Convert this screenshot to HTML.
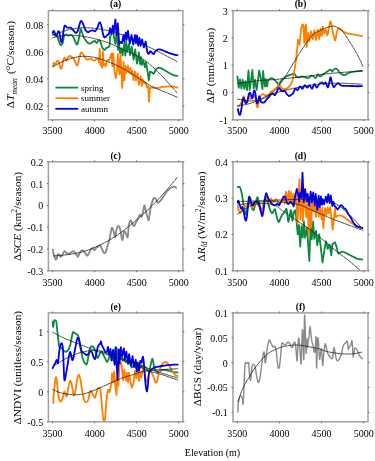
<!DOCTYPE html><html><head><meta charset="utf-8"><style>html,body{margin:0;padding:0;background:#fff;width:375px;height:461px;overflow:hidden}svg{display:block;filter:blur(0.35px)}text{font-family:"Liberation Serif",serif;fill:#000}</style></head><body>
<svg width="375" height="461" viewBox="0 0 375 461">
<rect width="375" height="461" fill="#fff"/>
<defs>
<clipPath id="ca"><rect x="48.4" y="10.7" width="134.5" height="109.1"/></clipPath>
<clipPath id="cb"><rect x="233" y="10.7" width="135" height="109.1"/></clipPath>
<clipPath id="cc"><rect x="48.4" y="161.8" width="134.5" height="109"/></clipPath>
<clipPath id="cd"><rect x="233" y="161.8" width="135" height="109"/></clipPath>
<clipPath id="ce"><rect x="48.4" y="312.9" width="134.5" height="108.9"/></clipPath>
<clipPath id="cf"><rect x="233" y="312.9" width="135" height="108.9"/></clipPath>
</defs>
<g clip-path="url(#ca)">
<path d="M52.7 33.7 C53.13 34.03 54.53 35.27 55.3 35.7 C56.07 36.13 56.73 35.42 57.3 36.3 C57.87 37.18 58.13 39.55 58.7 41 C59.27 42.45 60.03 44.67 60.7 45 C61.37 45.33 62.15 44.45 62.7 43 C63.25 41.55 63.57 37.75 64 36.3 C64.43 34.85 64.52 34.4 65.3 34.3 C66.08 34.2 67.7 35.58 68.7 35.7 C69.7 35.82 70.53 34.78 71.3 35 C72.07 35.22 72.63 35.88 73.3 37 C73.97 38.12 74.63 40.48 75.3 41.7 C75.97 42.92 76.63 45.2 77.3 44.3 C77.97 43.4 78.73 38.85 79.3 36.3 C79.87 33.75 80.25 29.67 80.7 29 C81.15 28.33 81.45 30.85 82 32.3 C82.55 33.75 83.22 36.13 84 37.7 C84.78 39.27 85.82 40.7 86.7 41.7 C87.58 42.7 88.42 43.6 89.3 43.7 C90.18 43.8 91.1 42.75 92 42.3 C92.9 41.85 93.92 40.88 94.7 41 C95.48 41.12 96.03 43.12 96.7 43 C97.37 42.88 98.1 40.58 98.7 40.3 C99.3 40.02 99.8 40.35 100.3 41.3 C100.8 42.25 101.25 44.77 101.7 46 C102.15 47.23 102.57 48.03 103 48.7 C103.43 49.37 103.75 50.12 104.3 50 C104.85 49.88 105.63 48.45 106.3 48 C106.97 47.55 107.73 47.75 108.3 47.3 C108.87 46.85 109.47 45.63 109.7 45.3 L110 36.75 L112 33.3 L113.44 33.72 L115.25 43.94 L116.7 32.7 L118.07 49.9 L119 42.89 L120.08 53.38 L121.51 48.28 L122.55 55.47 L124.35 43.24 L125.33 55.55 L126.29 41.88 L127.24 51.72 L128.99 44.14 L130.03 55.02 L131.79 46.69 L133.63 59.72 L135.18 49.46 L137 63.73 L138.86 52.37 L139.99 64.22 L140.98 57.2 L141.86 64.99 L143.32 60.36 L144.86 67.27 L146.01 62.26 L147.34 69.96 L148.8 80.5 C148.95 79.42 149.5 75.47 149.7 74 C149.9 72.53 149.65 71.98 150 71.7 C150.35 71.42 151.25 71.95 151.8 72.3 C152.35 72.65 152.8 73.9 153.3 73.8 C153.8 73.7 154.25 72.55 154.8 71.7 C155.35 70.85 156 69.35 156.6 68.7 C157.2 68.05 157.7 67.9 158.4 67.8 C159.1 67.7 160.02 67.85 160.8 68.1 C161.58 68.35 162.32 68.85 163.1 69.3 C163.88 69.75 164.7 70.3 165.5 70.8 C166.3 71.3 167.1 71.85 167.9 72.3 C168.7 72.75 169.5 73.07 170.3 73.5 C171.1 73.93 171.9 74.55 172.7 74.9 C173.5 75.25 174.3 75.45 175.1 75.6 C175.9 75.75 177.1 75.77 177.5 75.8" fill="none" stroke="#0a8a3c" stroke-width="1.8" stroke-linejoin="round" stroke-linecap="round"/>
<path d="M53.1 66.7 C53.18 66.03 53.33 63.03 53.6 62.7 C53.87 62.37 54.3 64.6 54.7 64.7 C55.1 64.8 55.57 63.97 56 63.3 C56.43 62.63 56.85 60.92 57.3 60.7 C57.75 60.48 58.25 61 58.7 62 C59.15 63 59.57 65.58 60 66.7 C60.43 67.82 60.85 69.27 61.3 68.7 C61.75 68.13 62.25 65.08 62.7 63.3 C63.15 61.52 63.57 58.77 64 58 C64.43 57.23 64.85 58.25 65.3 58.7 C65.75 59.15 66.25 60.93 66.7 60.7 C67.15 60.47 67.45 58.08 68 57.3 C68.55 56.52 69.33 56 70 56 C70.67 56 71.33 56.75 72 57.3 C72.67 57.85 73.33 58.18 74 59.3 C74.67 60.42 75.4 63 76 64 C76.6 65 77.05 66.3 77.6 65.3 C78.15 64.3 78.73 60.1 79.3 58 C79.87 55.9 80.38 53.37 81 52.7 C81.62 52.03 82.38 53.33 83 54 C83.62 54.67 84.08 55.82 84.7 56.7 C85.32 57.58 86.03 58.87 86.7 59.3 C87.37 59.73 88.03 59.4 88.7 59.3 C89.37 59.2 90.03 58.58 90.7 58.7 C91.37 58.82 92.03 59.67 92.7 60 C93.37 60.33 94.15 60.82 94.7 60.7 C95.25 60.58 95.45 59.63 96 59.3 C96.55 58.97 97.5 58.32 98 58.7 C98.5 59.08 98.7 63.23 99 61.6 C99.3 59.97 99.57 48.42 99.8 48.9 C100.03 49.38 100.13 62.22 100.4 64.5 C100.67 66.78 101.12 62.1 101.4 62.6 C101.68 63.1 101.85 69.3 102.1 67.5 C102.35 65.7 102.63 52.3 102.9 51.8 C103.17 51.3 103.47 62.22 103.7 64.5 C103.93 66.78 104.03 65.65 104.3 65.5 C104.57 65.35 105.02 63.52 105.3 63.6 C105.58 63.68 105.75 66.33 106 66 C106.25 65.67 106.5 62.58 106.8 61.6 C107.1 60.62 107.48 60.27 107.8 60.1 C108.12 59.93 108.38 60.83 108.7 60.6 C109.02 60.37 109.37 59.52 109.7 58.7 C110.03 57.88 110.53 56.2 110.7 55.7 L111.5 53.41 L112.44 66.38 L113.29 53.34 L114.45 71.16 L115.8 78.2 L116.99 71.43 L117.87 54.04 L119.51 74.48 L120.52 55.03 L122.2 88 L123.48 61.58 L124.3 80.45 L125.39 65.81 L126.29 72.87 L127.92 65.75 L129.3 72.76 L130.47 68 L131.31 74.17 L132.31 70.59 L133.53 80.33 L134.92 71.43 L136.01 80.67 L137.52 73.18 L138.9 85.2 L140.59 76.1 L141.67 86.12 L142.57 79.2 L144.14 83.45 L145.43 82.18 L146.9 87.24 L148.28 86.06 L148.9 101.6 C149.03 99.8 149.45 93.15 149.7 90.8 C149.95 88.45 150.13 88.05 150.4 87.5 C150.67 86.95 150.97 87.45 151.3 87.5 C151.63 87.55 151.82 87.78 152.4 87.8 C152.98 87.82 154 87.6 154.8 87.6 C155.6 87.6 156.4 87.8 157.2 87.8 C158 87.8 158.8 87.73 159.6 87.6 C160.4 87.47 161.02 87.17 162 87 C162.98 86.83 164.32 86.7 165.5 86.6 C166.68 86.5 167.9 86.4 169.1 86.4 C170.3 86.4 171.3 86.4 172.7 86.6 C174.1 86.8 176.7 87.43 177.5 87.6" fill="none" stroke="#ff8000" stroke-width="1.8" stroke-linejoin="round" stroke-linecap="round"/>
<path d="M52.7 32.3 C52.92 32.08 53.57 30.67 54 31 C54.43 31.33 54.85 33.52 55.3 34.3 C55.75 35.08 56.25 36.13 56.7 35.7 C57.15 35.27 57.57 32.27 58 31.7 C58.43 31.13 58.85 30.87 59.3 32.3 C59.75 33.73 60.25 38.73 60.7 40.3 C61.15 41.87 61.57 43.03 62 41.7 C62.43 40.37 62.85 34.97 63.3 32.3 C63.75 29.63 64.03 26.47 64.7 25.7 C65.37 24.93 66.3 27.37 67.3 27.7 C68.3 28.03 69.7 27.27 70.7 27.7 C71.7 28.13 72.42 29.42 73.3 30.3 C74.18 31.18 75.22 33 76 33 C76.78 33 77.33 31.97 78 30.3 C78.67 28.63 79.45 24.55 80 23 C80.55 21.45 80.75 20.78 81.3 21 C81.85 21.22 82.63 22.85 83.3 24.3 C83.97 25.75 84.52 28.37 85.3 29.7 C86.08 31.03 87.22 32.08 88 32.3 C88.78 32.52 89.22 31.33 90 31 C90.78 30.67 91.87 30.25 92.7 30.3 C93.53 30.35 94.28 31.57 95 31.3 C95.72 31.03 96.33 30.03 97 28.7 C97.67 27.37 98.45 24.3 99 23.3 C99.55 22.3 99.85 22.03 100.3 22.7 C100.75 23.37 101.25 25.42 101.7 27.3 C102.15 29.18 102.57 32.33 103 34 C103.43 35.67 103.85 36.85 104.3 37.3 C104.75 37.75 105.13 37.13 105.7 36.7 C106.27 36.27 107.15 35.15 107.7 34.7 C108.25 34.25 108.78 34.12 109 34 L110 28.22 L111.4 33.65 L112.86 25.54 L113.74 33.01 L115.4 19.3 L116.52 35.29 L117.84 23.39 L119.16 44.02 L120.2 42 L121.88 43.14 L123.49 35 L124.37 41.8 L125.82 32.41 L126.66 39.81 L127.98 30.83 L129.74 43.5 L131.55 34.93 L133.22 44.52 L135.04 35.01 L135.96 43.38 L137 35.37 L138.28 45.56 L139.42 37.66 L140.64 45.83 L142.09 39.33 L143.87 47.38 L145.69 41.59 L147.3 52 C147.53 52.33 148.25 54.12 148.7 54 C149.15 53.88 149.48 51.55 150 51.3 C150.52 51.05 151.2 52.03 151.8 52.5 C152.4 52.97 153.1 54.18 153.6 54.1 C154.1 54.02 154.3 52.65 154.8 52 C155.3 51.35 156 50.65 156.6 50.2 C157.2 49.75 157.7 49.4 158.4 49.3 C159.1 49.2 160.02 49.4 160.8 49.6 C161.58 49.8 162.32 50.17 163.1 50.5 C163.88 50.83 164.7 51.27 165.5 51.6 C166.3 51.93 167.1 52.2 167.9 52.5 C168.7 52.8 169.5 53.13 170.3 53.4 C171.1 53.67 171.9 53.85 172.7 54.1 C173.5 54.35 174.3 54.72 175.1 54.9 C175.9 55.08 177.1 55.15 177.5 55.2" fill="none" stroke="#0000f0" stroke-width="1.8" stroke-linejoin="round" stroke-linecap="round"/>
<path d="M52.7 35 C53.92 34.58 57.12 33.42 60 32.5 C62.88 31.58 66.17 30.3 70 29.5 C73.83 28.7 78.83 27.87 83 27.7 C87.17 27.53 90.5 27.95 95 28.5 C99.5 29.05 105.83 30.08 110 31 C114.17 31.92 116.67 32.75 120 34 C123.33 35.25 125.83 36.63 130 38.5 C134.17 40.37 140 42.87 145 45.2 C150 47.53 154.62 49.75 160 52.5 C165.38 55.25 174.42 60.17 177.3 61.7" fill="none" stroke="#1a1a1a" stroke-width="0.8" stroke-linejoin="round" stroke-linecap="round" stroke-dasharray="2.6 1"/>
<path d="M52.7 37.7 C53.92 37.45 57.12 36.62 60 36.2 C62.88 35.78 66.17 35.18 70 35.2 C73.83 35.22 78.83 35.7 83 36.3 C87.17 36.9 90.5 37.6 95 38.8 C99.5 40 105 41.55 110 43.5 C115 45.45 119.42 47.83 125 50.5 C130.58 53.17 137.67 55.58 143.5 59.5 C149.33 63.42 154.37 68.42 160 74 C165.63 79.58 174.42 89.83 177.3 93" fill="none" stroke="#1a1a1a" stroke-width="0.8" stroke-linejoin="round" stroke-linecap="round" stroke-dasharray="2.6 1"/>
<path d="M53 66.7 C55 65.67 60.5 62.2 65 60.5 C69.5 58.8 75 57 80 56.5 C85 56 90 56.5 95 57.5 C100 58.5 105.5 60.75 110 62.5 C114.5 64.25 117 65.25 122 68 C127 70.75 135 75.92 140 79 C145 82.08 147.83 84.33 152 86.5 C156.17 88.67 160.78 90.2 165 92 C169.22 93.8 175.25 96.42 177.3 97.3" fill="none" stroke="#1a1a1a" stroke-width="0.8" stroke-linejoin="round" stroke-linecap="round" stroke-dasharray="2.6 1"/>
</g>
<rect x="48.4" y="10.7" width="134.5" height="109.1" fill="none" stroke="#a0a0a0" stroke-width="1.5"/>
<path d="M52.6 119.8v1.5M52.6 10.7v-1.5M94.63 119.8v1.5M94.63 10.7v-1.5M136.67 119.8v1.5M136.67 10.7v-1.5M178.7 119.8v1.5M178.7 10.7v-1.5M48.4 24.7h-1.5M182.9 24.7h1.5M48.4 51.8h-1.5M182.9 51.8h1.5M48.4 78.9h-1.5M182.9 78.9h1.5M48.4 106h-1.5M182.9 106h1.5" stroke="#555" stroke-width="0.8"/>
<text x="52.6" y="134.2" font-size="10" text-anchor="middle">3500</text>
<text x="94.63" y="134.2" font-size="10" text-anchor="middle">4000</text>
<text x="136.67" y="134.2" font-size="10" text-anchor="middle">4500</text>
<text x="178.7" y="134.2" font-size="10" text-anchor="middle">5000</text>
<text x="43.2" y="28.6" font-size="10" text-anchor="end">0.08</text>
<text x="43.2" y="55.7" font-size="10" text-anchor="end">0.06</text>
<text x="43.2" y="82.8" font-size="10" text-anchor="end">0.04</text>
<text x="43.2" y="109.9" font-size="10" text-anchor="end">0.02</text>
<text x="115.65" y="7.4" font-size="9.5" font-weight="bold" text-anchor="middle">(a)</text>
<g clip-path="url(#cb)">
<path d="M237.4 76.36 L238.76 87.9 L240.03 79.34 L241.42 88.64 L242.73 79.78 L244.33 88.97 L245.43 81.11 L247.05 90.1 L247.88 78.05 L248.5 70.5 L249.66 89.99 L251.08 80.46 L252.4 70 L253.75 88.39 L255.01 79.7 L256.67 89.79 L258.11 79.34 L259.2 70.5 L260.65 77.55 L262.47 89.09 L263.1 71 L263.98 79.59 L265 86.58 L265.85 78.79 L267.05 86.32 L268 80.3 C268.48 79.97 269.93 78.47 270.9 78.3 C271.87 78.13 272.83 78.65 273.8 79.3 C274.77 79.95 275.88 81.38 276.7 82.2 C277.52 83.02 277.88 84.52 278.7 84.2 C279.52 83.88 280.63 81.43 281.6 80.3 C282.57 79.17 283.37 78.22 284.5 77.4 C285.63 76.58 287.27 75.88 288.4 75.4 C289.53 74.92 290.32 74.82 291.3 74.5 C292.28 74.18 293.48 73.18 294.3 73.5 C295.12 73.82 295.4 75.75 296.2 76.4 C297 77.05 298.13 77.4 299.1 77.4 C300.07 77.4 301.02 76.4 302 76.4 C302.98 76.4 303.93 77.13 305 77.4 C306.07 77.67 307.23 78.3 308.4 78 C309.57 77.7 310.8 75.6 312 75.6 C313.2 75.6 314.6 78.2 315.6 78 C316.6 77.8 317.27 74.67 318 74.4 C318.73 74.13 319.18 76.38 320 76.4 C320.82 76.42 321.92 75.15 322.9 74.5 C323.88 73.85 324.92 73.17 325.9 72.5 C326.88 71.83 328 70.98 328.8 70.5 C329.6 70.02 330.15 69.43 330.7 69.6 C331.25 69.77 331.6 71.5 332.1 71.5 C332.6 71.5 333.12 70.08 333.7 69.6 C334.28 69.12 334.95 68.6 335.6 68.6 C336.25 68.6 336.95 68.95 337.6 69.6 C338.25 70.25 338.85 71.77 339.5 72.5 C340.15 73.23 340.83 73.58 341.5 74 C342.17 74.42 342.83 74.87 343.5 75 C344.17 75.13 344.75 75.08 345.5 74.8 C346.25 74.52 347.03 73.73 348 73.3 C348.97 72.87 349.97 72.52 351.3 72.2 C352.63 71.88 354.22 71.62 356 71.4 C357.78 71.18 361 70.98 362 70.9" fill="none" stroke="#0a8a3c" stroke-width="1.8" stroke-linejoin="round" stroke-linecap="round"/>
<path d="M237.8 105.8 C238 105.8 238.53 106.07 239 105.8 C239.47 105.53 240.13 105 240.6 104.2 C241.07 103.4 241.4 102.07 241.8 101 C242.2 99.93 242.67 98.6 243 97.8 C243.33 97 243.47 95.67 243.8 96.2 C244.13 96.73 244.53 99.93 245 101 C245.47 102.07 245.93 103.4 246.6 102.6 C247.27 101.8 248.33 96.73 249 96.2 C249.67 95.67 250.07 99.13 250.6 99.4 C251.13 99.67 251.67 98.6 252.2 97.8 C252.73 97 253.27 94.6 253.8 94.6 C254.33 94.6 254.93 96.07 255.4 97.8 C255.87 99.53 256.23 103.4 256.6 105 C256.97 106.6 257.27 107.67 257.6 107.4 C257.93 107.13 258.17 105.13 258.6 103.4 C259.03 101.67 259.52 98.57 260.2 97 C260.88 95.43 261.95 94.28 262.7 94 C263.45 93.72 264.03 95.08 264.7 95.3 C265.37 95.52 266.03 95.4 266.7 95.3 C267.37 95.2 268.03 95.25 268.7 94.7 C269.37 94.15 270.03 92.67 270.7 92 C271.37 91.33 272.03 91.15 272.7 90.7 C273.37 90.25 274.03 89.87 274.7 89.3 C275.37 88.73 276.03 88.07 276.7 87.3 C277.37 86.53 278.03 84.8 278.7 84.7 C279.37 84.6 280.03 85.93 280.7 86.7 C281.37 87.47 282.03 88.92 282.7 89.3 C283.37 89.68 284.07 89.13 284.7 89 C285.33 88.87 285.73 88.93 286.5 88.5 C287.27 88.07 288.35 87.55 289.3 86.4 C290.25 85.25 291.4 84 292.2 81.6 C293 79.2 293.47 75.58 294.1 72 C294.73 68.42 295.4 64.87 296 60.1 C296.6 55.33 297.42 46.18 297.7 43.4 L298 39.74 L299.55 44.75 L301.28 27.84 L302.4 24.3 L303.39 25.09 L304.34 42.83 L305.38 27.38 L306 24.3 L306.66 47.1 L308.12 32.89 L309.23 41.32 L310.98 31.28 L312.66 39.3 L314.28 30.38 L315.95 40.18 L317.67 29.58 L319.3 39.09 L320.57 28.62 L321.85 35.98 L322.78 26.77 L324.3 33.4 C324.57 32.75 325.38 29.17 325.9 29.5 C326.42 29.83 326.92 35.55 327.4 35.4 C327.88 35.25 328.33 30.88 328.8 28.6 C329.27 26.32 329.78 22.52 330.2 21.7 C330.62 20.88 330.88 22.07 331.3 23.7 C331.72 25.33 332.23 29.23 332.7 31.5 C333.17 33.77 333.68 35.83 334.1 37.3 C334.52 38.77 334.78 40.95 335.2 40.3 C335.62 39.65 336.13 35.35 336.6 33.4 C337.07 31.45 337.52 29.4 338 28.6 C338.48 27.8 338.92 28.45 339.5 28.6 C340.08 28.75 340.85 29.02 341.5 29.5 C342.15 29.98 342.58 30.92 343.4 31.5 C344.22 32.08 345.42 32.62 346.4 33 C347.38 33.38 348.17 33.57 349.3 33.8 C350.43 34.03 351.73 34.13 353.2 34.4 C354.67 34.67 356.63 35.13 358.1 35.4 C359.57 35.67 361.35 35.9 362 36" fill="none" stroke="#ff8000" stroke-width="1.8" stroke-linejoin="round" stroke-linecap="round"/>
<path d="M237.8 109 C238 109.8 238.6 112.87 239 113.8 C239.4 114.73 239.8 115.4 240.2 114.6 C240.6 113.8 241 111.27 241.4 109 C241.8 106.73 242.2 102.87 242.6 101 C243 99.13 243.4 97.67 243.8 97.8 C244.2 97.93 244.6 100.87 245 101.8 C245.4 102.73 245.8 103.53 246.2 103.4 C246.6 103.27 246.93 102.6 247.4 101 C247.87 99.4 248.53 95.13 249 93.8 C249.47 92.47 249.8 92.6 250.2 93 C250.6 93.4 251 95.4 251.4 96.2 C251.8 97 252.2 98.6 252.6 97.8 C253 97 253.4 92.47 253.8 91.4 C254.2 90.33 254.6 90.07 255 91.4 C255.4 92.73 255.87 97.4 256.2 99.4 C256.53 101.4 256.67 103.13 257 103.4 C257.33 103.67 257.8 102.2 258.2 101 C258.6 99.8 258.93 96.07 259.4 96.2 C259.87 96.33 260.45 100.72 261 101.8 C261.55 102.88 262.08 102.67 262.7 102.7 C263.32 102.73 264.03 102.57 264.7 102 C265.37 101.43 266.03 100.08 266.7 99.3 C267.37 98.52 268.03 98.07 268.7 97.3 C269.37 96.53 270.03 95.37 270.7 94.7 C271.37 94.03 272.03 93.2 272.7 93.3 C273.37 93.4 274.03 95.52 274.7 95.3 C275.37 95.08 276.03 93.22 276.7 92 C277.37 90.78 278.03 88.33 278.7 88 C279.37 87.67 280.03 89.45 280.7 90 C281.37 90.55 282.03 91.18 282.7 91.3 C283.37 91.42 284.03 90.25 284.7 90.7 C285.37 91.15 285.98 93.12 286.7 94 C287.42 94.88 288.28 95.83 289 96 C289.72 96.17 290.35 95.42 291 95 C291.65 94.58 292.18 94.53 292.9 93.5 C293.62 92.47 294.5 89.38 295.3 88.8 C296.1 88.22 296.92 90.4 297.7 90 C298.48 89.6 299.22 86.6 300 86.4 C300.78 86.2 301.6 89 302.4 88.8 C303.2 88.6 304 85.4 304.8 85.2 C305.6 85 306.4 87.6 307.2 87.6 C308 87.6 308.8 85 309.6 85.2 C310.4 85.4 311.2 89 312 88.8 C312.8 88.6 313.6 84.2 314.4 84 C315.2 83.8 316 87.6 316.8 87.6 C317.6 87.6 318.58 84.73 319.2 84 C319.82 83.27 320.03 83.48 320.5 83.2 C320.97 82.92 321.43 82.13 322 82.3 C322.57 82.47 323.32 84.2 323.9 84.2 C324.48 84.2 325.02 82.13 325.5 82.3 C325.98 82.47 326.35 84.4 326.8 85.2 C327.25 86 327.7 87.92 328.2 87.1 C328.7 86.28 329.38 81.92 329.8 80.3 C330.22 78.68 330.32 76.92 330.7 77.4 C331.08 77.88 331.6 81.58 332.1 83.2 C332.6 84.82 333.12 86.77 333.7 87.1 C334.28 87.43 334.88 85.85 335.6 85.2 C336.32 84.55 337.18 83.2 338 83.2 C338.82 83.2 339.6 84.77 340.5 85.2 C341.4 85.63 341.93 85.7 343.4 85.8 C344.87 85.9 347.33 85.73 349.3 85.8 C351.27 85.87 353.08 86.13 355.2 86.2 C357.32 86.27 360.87 86.2 362 86.2" fill="none" stroke="#0000f0" stroke-width="1.8" stroke-linejoin="round" stroke-linecap="round"/>
<path d="M237.5 106 C239.58 105.58 245.92 104.75 250 103.5 C254.08 102.25 257.83 100.67 262 98.5 C266.17 96.33 271.17 94.08 275 90.5 C278.83 86.92 281.42 82.42 285 77 C288.58 71.58 292.2 64.67 296.5 58 C300.8 51.33 306.88 41.58 310.8 37 C314.72 32.42 316.52 32.3 320 30.5 C323.48 28.7 328.77 26.68 331.7 26.2 C334.63 25.72 335.65 26.55 337.6 27.6 C339.55 28.65 341.45 30.22 343.4 32.5 C345.35 34.78 347.5 38.53 349.3 41.3 C351.1 44.07 352.57 46.33 354.2 49.1 C355.83 51.87 357.63 54.98 359.1 57.9 C360.57 60.82 362.35 65.15 363 66.6" fill="none" stroke="#1a1a1a" stroke-width="0.8" stroke-linejoin="round" stroke-linecap="round" stroke-dasharray="2.6 1"/>
<path d="M237.5 83.5 C241.25 83 253.75 81.17 260 80.5 C266.25 79.83 268.33 80.08 275 79.5 C281.67 78.92 291.67 77.92 300 77 C308.33 76.08 317.5 74.8 325 74 C332.5 73.2 338.83 72.7 345 72.2 C351.17 71.7 359.17 71.2 362 71" fill="none" stroke="#1a1a1a" stroke-width="0.8" stroke-linejoin="round" stroke-linecap="round" stroke-dasharray="2.6 1"/>
<path d="M237.5 99 C239.58 99.33 245.92 101 250 101 C254.08 101 257.83 100.33 262 99 C266.17 97.67 268.67 95 275 93 C281.33 91 292.5 88.5 300 87 C307.5 85.5 313.33 84.63 320 84 C326.67 83.37 333 83.17 340 83.2 C347 83.23 358.33 84.03 362 84.2" fill="none" stroke="#1a1a1a" stroke-width="0.8" stroke-linejoin="round" stroke-linecap="round" stroke-dasharray="2.6 1"/>
</g>
<rect x="233" y="10.7" width="135" height="109.1" fill="none" stroke="#a0a0a0" stroke-width="1.5"/>
<path d="M237.22 119.8v1.5M237.22 10.7v-1.5M279.41 119.8v1.5M279.41 10.7v-1.5M321.59 119.8v1.5M321.59 10.7v-1.5M363.78 119.8v1.5M363.78 10.7v-1.5M233 10.7h-1.5M368 10.7h1.5M233 38h-1.5M368 38h1.5M233 65.2h-1.5M368 65.2h1.5M233 92.5h-1.5M368 92.5h1.5M233 119.8h-1.5M368 119.8h1.5" stroke="#555" stroke-width="0.8"/>
<text x="237.22" y="134.2" font-size="10" text-anchor="middle">3500</text>
<text x="279.41" y="134.2" font-size="10" text-anchor="middle">4000</text>
<text x="321.59" y="134.2" font-size="10" text-anchor="middle">4500</text>
<text x="363.78" y="134.2" font-size="10" text-anchor="middle">5000</text>
<text x="227.8" y="14.6" font-size="10" text-anchor="end">3</text>
<text x="227.8" y="41.9" font-size="10" text-anchor="end">2</text>
<text x="227.8" y="69.1" font-size="10" text-anchor="end">1</text>
<text x="227.8" y="96.4" font-size="10" text-anchor="end">0</text>
<text x="227.8" y="123.7" font-size="10" text-anchor="end">-1</text>
<text x="300.5" y="7.4" font-size="9.5" font-weight="bold" text-anchor="middle">(b)</text>
<g clip-path="url(#cc)">
<path d="M52.8 249.6 C52.93 250.4 53.33 253.33 53.6 254.4 C53.87 255.47 54.07 255.13 54.4 256 C54.73 256.87 55.2 259.2 55.6 259.6 C56 260 56.47 259.2 56.8 258.4 C57.13 257.6 57.2 255.47 57.6 254.8 C58 254.13 58.73 254.07 59.2 254.4 C59.67 254.73 59.93 256.6 60.4 256.8 C60.87 257 61.33 256.53 62 255.6 C62.67 254.67 63.67 251.67 64.4 251.2 C65.13 250.73 65.73 252.33 66.4 252.8 C67.07 253.27 67.67 254 68.4 254 C69.13 254 70.07 253.27 70.8 252.8 C71.53 252.33 72.13 251.27 72.8 251.2 C73.47 251.13 74.13 251.73 74.8 252.4 C75.47 253.07 76.27 254.47 76.8 255.2 C77.33 255.93 77.57 257.08 78 256.8 C78.43 256.52 78.8 254.6 79.4 253.5 C80 252.4 80.93 250.6 81.6 250.2 C82.27 249.8 82.78 250.63 83.4 251.1 C84.02 251.57 84.67 252.22 85.3 253 C85.93 253.78 86.58 255.8 87.2 255.8 C87.82 255.8 88.38 254.08 89 253 C89.62 251.92 90.27 250.08 90.9 249.3 C91.53 248.52 92.18 248.15 92.8 248.3 C93.42 248.45 93.98 250.35 94.6 250.2 C95.22 250.05 95.87 248.02 96.5 247.4 C97.13 246.78 97.78 246.82 98.4 246.5 C99.02 246.18 99.58 245.03 100.2 245.5 C100.82 245.97 101.47 248.05 102.1 249.3 C102.73 250.55 103.38 252.55 104 253 C104.62 253.45 105.18 253.25 105.8 252 C106.42 250.75 107.07 247.67 107.7 245.5 C108.33 243.33 109.13 240.92 109.6 239 C110.07 237.08 110.12 235.87 110.5 234 C110.88 232.13 111.37 228.2 111.9 227.8 C112.43 227.4 113.15 230.03 113.7 231.6 C114.25 233.17 114.73 237.52 115.2 237.2 C115.67 236.88 115.97 231.57 116.5 229.7 C117.03 227.83 117.77 226 118.4 226 C119.03 226 119.77 227.83 120.3 229.7 C120.83 231.57 121.2 235.48 121.6 237.2 C122 238.92 122.3 240.93 122.7 240 C123.1 239.07 123.47 232.7 124 231.6 C124.53 230.5 125.28 232.47 125.9 233.4 C126.52 234.33 127.23 238.43 127.7 237.2 C128.17 235.97 128.23 228.8 128.7 226 C129.17 223.2 129.88 220.72 130.5 220.4 C131.12 220.08 131.77 223.17 132.4 224.1 C133.03 225.03 133.68 226.32 134.3 226 C134.92 225.68 135.48 223.45 136.1 222.2 C136.72 220.95 137.37 219.73 138 218.5 C138.63 217.27 139.28 215.12 139.9 214.8 C140.52 214.48 141.08 217.53 141.7 216.6 C142.32 215.67 143.13 211.07 143.6 209.2 C144.07 207.33 144.13 205.1 144.5 205.4 C144.87 205.7 145.33 209.13 145.8 211 C146.27 212.87 146.83 215.03 147.3 216.6 C147.77 218.17 148.22 220.7 148.6 220.4 C148.98 220.1 149.25 216.98 149.6 214.8 C149.95 212.62 150.3 209.33 150.7 207.3 C151.1 205.27 151.48 204.15 152 202.6 C152.52 201.05 153.18 198.62 153.8 198 C154.42 197.38 155.07 198.13 155.7 198.9 C156.33 199.67 156.98 202.13 157.6 202.6 C158.22 203.07 158.78 202.15 159.4 201.7 C160.02 201.25 160.67 200.68 161.3 199.9 C161.93 199.12 162.58 197.93 163.2 197 C163.82 196.07 164.38 195.22 165 194.3 C165.62 193.38 166.12 192.43 166.9 191.5 C167.68 190.57 168.77 189.48 169.7 188.7 C170.63 187.92 171.72 187.12 172.5 186.8 C173.28 186.48 173.78 186.65 174.4 186.8 C175.02 186.95 175.9 187.55 176.2 187.7" fill="none" stroke="#8a8a8a" stroke-width="1.85" stroke-linejoin="round" stroke-linecap="round"/>
<path d="M53.6 256 C56.33 255.72 64.72 255.13 70 254.3 C75.28 253.47 79.63 252.88 85.3 251 C90.97 249.12 98.55 245.75 104 243 C109.45 240.25 113.67 237.42 118 234.5 C122.33 231.58 125.5 229.17 130 225.5 C134.5 221.83 140 217.17 145 212.5 C150 207.83 154.63 203.33 160 197.5 C165.37 191.67 174.33 180.83 177.2 177.5" fill="none" stroke="#1a1a1a" stroke-width="0.8" stroke-linejoin="round" stroke-linecap="round" stroke-dasharray="2.6 1"/>
</g>
<rect x="48.4" y="161.8" width="134.5" height="109" fill="none" stroke="#a0a0a0" stroke-width="1.5"/>
<path d="M52.6 270.8v1.5M52.6 161.8v-1.5M94.63 270.8v1.5M94.63 161.8v-1.5M136.67 270.8v1.5M136.67 161.8v-1.5M178.7 270.8v1.5M178.7 161.8v-1.5M48.4 161.8h-1.5M182.9 161.8h1.5M48.4 183.6h-1.5M182.9 183.6h1.5M48.4 205.4h-1.5M182.9 205.4h1.5M48.4 227.2h-1.5M182.9 227.2h1.5M48.4 249h-1.5M182.9 249h1.5M48.4 270.8h-1.5M182.9 270.8h1.5" stroke="#555" stroke-width="0.8"/>
<text x="52.6" y="285.5" font-size="10" text-anchor="middle">3500</text>
<text x="94.63" y="285.5" font-size="10" text-anchor="middle">4000</text>
<text x="136.67" y="285.5" font-size="10" text-anchor="middle">4500</text>
<text x="178.7" y="285.5" font-size="10" text-anchor="middle">5000</text>
<text x="43.2" y="165.7" font-size="10" text-anchor="end">0.2</text>
<text x="43.2" y="187.5" font-size="10" text-anchor="end">0.1</text>
<text x="43.2" y="209.3" font-size="10" text-anchor="end">0</text>
<text x="43.2" y="231.1" font-size="10" text-anchor="end">-0.1</text>
<text x="43.2" y="252.9" font-size="10" text-anchor="end">-0.2</text>
<text x="43.2" y="274.7" font-size="10" text-anchor="end">-0.3</text>
<text x="115.65" y="158.5" font-size="9.5" font-weight="bold" text-anchor="middle">(c)</text>
<g clip-path="url(#cd)">
<path d="M237.7 187.3 C237.92 187.2 238.57 186.58 239 186.7 C239.43 186.82 239.85 186.9 240.3 188 C240.75 189.1 241.25 191.08 241.7 193.3 C242.15 195.52 242.57 198.63 243 201.3 C243.43 203.97 243.85 207.07 244.3 209.3 C244.75 211.53 245.25 214.7 245.7 214.7 C246.15 214.7 246.57 211.3 247 209.3 C247.43 207.3 247.85 204.25 248.3 202.7 C248.75 201.15 249.25 199.57 249.7 200 C250.15 200.43 250.57 203.85 251 205.3 C251.43 206.75 251.85 207.92 252.3 208.7 C252.75 209.48 253.25 210.57 253.7 210 C254.15 209.43 254.57 206.97 255 205.3 C255.43 203.63 255.85 201.33 256.3 200 C256.75 198.67 257.25 196.85 257.7 197.3 C258.15 197.75 258.57 200.92 259 202.7 C259.43 204.48 259.85 206.67 260.3 208 C260.75 209.33 261.25 210.92 261.7 210.7 C262.15 210.48 262.57 208.27 263 206.7 C263.43 205.13 263.85 202.63 264.3 201.3 C264.75 199.97 265.25 198.92 265.7 198.7 C266.15 198.48 266.57 199.12 267 200 C267.43 200.88 267.85 202.55 268.3 204 C268.75 205.45 269.25 207.37 269.7 208.7 C270.15 210.03 270.57 211.23 271 212 C271.43 212.77 271.85 213.52 272.3 213.3 C272.75 213.08 273.25 211.37 273.7 210.7 C274.15 210.03 274.57 208.63 275 209.3 C275.43 209.97 275.85 212.92 276.3 214.7 C276.75 216.48 277.25 218.78 277.7 220 C278.15 221.22 278.57 222.22 279 222 C279.43 221.78 279.92 219.58 280.3 218.7 C280.68 217.82 280.92 217.47 281.3 216.7 C281.68 215.93 282.05 214.85 282.6 214.1 C283.15 213.35 283.95 213.07 284.6 212.2 C285.25 211.33 286 208.15 286.5 208.9 C287 209.65 287.27 214.53 287.6 216.7 C287.93 218.87 288.13 222.12 288.5 221.9 C288.87 221.68 289.37 217.35 289.8 215.4 C290.23 213.45 290.67 209.33 291.1 210.2 C291.53 211.07 291.97 220.17 292.4 220.6 C292.83 221.03 293.27 214.53 293.7 212.8 C294.13 211.07 294.78 210.63 295 210.2 L296 215.84 L297.74 234.44 L298.91 224.9 L300.2 246.7 L301.5 226.25 L302.77 237.67 L303.89 221.23 L305.09 237.58 L306.99 227.48 L309.3 261 L310.7 223.36 L311.7 239.46 L313.17 221.51 L314.25 238.92 L316.07 230.93 L317.26 245.47 L319.15 234.28 L321.11 250.09 L322.5 262.5 L324.73 247.84 L325.99 241.26 L327.67 248.78 L329.58 244.59 L331.29 255.31 L332.4 244.32 L335 242.2 C335.27 242.98 336.08 245.08 336.6 246.9 C337.12 248.72 337.58 252.07 338.1 253.1 C338.62 254.13 339.05 253.35 339.7 253.1 C340.35 252.85 341.22 251.73 342 251.6 C342.78 251.47 343.48 251.92 344.4 252.3 C345.32 252.68 346.47 253.37 347.5 253.9 C348.53 254.43 349.55 254.98 350.6 255.5 C351.65 256.02 352.75 256.48 353.8 257 C354.85 257.52 355.87 258.2 356.9 258.6 C357.93 259 359.1 259.27 360 259.4 C360.9 259.53 361.92 259.4 362.3 259.4" fill="none" stroke="#0a8a3c" stroke-width="1.8" stroke-linejoin="round" stroke-linecap="round"/>
<path d="M237.7 206.7 C237.92 207.37 238.57 209.6 239 210.7 C239.43 211.8 239.85 213.3 240.3 213.3 C240.75 213.3 241.25 211.8 241.7 210.7 C242.15 209.6 242.57 207.6 243 206.7 C243.43 205.8 243.85 205.3 244.3 205.3 C244.75 205.3 245.25 206.7 245.7 206.7 C246.15 206.7 246.57 205.63 247 205.3 C247.43 204.97 247.85 205.03 248.3 204.7 C248.75 204.37 249.25 203.2 249.7 203.3 C250.15 203.4 250.57 204.63 251 205.3 C251.43 205.97 251.85 207.18 252.3 207.3 C252.75 207.42 253.25 206.55 253.7 206 C254.15 205.45 254.57 204.55 255 204 C255.43 203.45 255.85 202.58 256.3 202.7 C256.75 202.82 257.25 204.03 257.7 204.7 C258.15 205.37 258.57 205.82 259 206.7 C259.43 207.58 259.85 209 260.3 210 C260.75 211 261.25 213.25 261.7 212.7 C262.15 212.15 262.57 208.82 263 206.7 C263.43 204.58 263.85 201.67 264.3 200 C264.75 198.33 265.25 196.92 265.7 196.7 C266.15 196.48 266.57 197.93 267 198.7 C267.43 199.47 267.85 201.08 268.3 201.3 C268.75 201.52 269.25 200.43 269.7 200 C270.15 199.57 270.57 198.58 271 198.7 C271.43 198.82 271.85 200.15 272.3 200.7 C272.75 201.25 273.25 202.12 273.7 202 C274.15 201.88 274.57 200.45 275 200 C275.43 199.55 275.85 199.08 276.3 199.3 C276.75 199.52 277.25 200.3 277.7 201.3 C278.15 202.3 278.57 204.97 279 205.3 C279.43 205.63 279.87 203.87 280.3 203.3 C280.73 202.73 281.38 202.13 281.6 201.9 L283 196.57 L284.66 203.75 L286.02 191.65 L287.91 201.93 L288.88 190.91 L289.97 202.66 L291.07 192 L292.23 202.83 L293.65 193.59 L294.54 203.37 L295.94 194.07 L297.54 223.84 L298.8 190.41 L299.5 179.1 L300.39 219.49 L301.63 188.55 L302.76 221.41 L304.47 195.08 L306.31 217.29 L307.71 198.19 L308.6 235 L309.39 229.61 L310.35 197.01 L311.27 227.25 L312.09 200.92 L313.42 211.33 L314.74 203 L315.95 216.8 L317.7 203.03 L318.77 216.62 L319.99 207.1 L321.56 219.38 L322.51 207.58 L323.3 228.1 L325.06 208.05 L326.61 214.76 L327.64 207.53 L329.26 213.17 L330.15 207.1 L331.66 219.82 L332.7 229.7 L333.85 219.66 L334.97 208.4 L335.8 217.2 C336.18 216.93 337.32 215.87 338.1 215.6 C338.88 215.33 339.72 215.47 340.5 215.6 C341.28 215.73 342.02 216 342.8 216.4 C343.58 216.8 344.28 217.35 345.2 218 C346.12 218.65 347.27 219.52 348.3 220.3 C349.33 221.08 350.37 221.92 351.4 222.7 C352.43 223.48 353.45 224.3 354.5 225 C355.55 225.7 356.4 226.38 357.7 226.9 C359 227.42 361.53 227.9 362.3 228.1" fill="none" stroke="#ff8000" stroke-width="1.8" stroke-linejoin="round" stroke-linecap="round"/>
<path d="M237.7 202.7 C237.8 202.37 237.97 200.37 238.3 200.7 C238.63 201.03 239.25 203.37 239.7 204.7 C240.15 206.03 240.57 208.27 241 208.7 C241.43 209.13 241.85 206.75 242.3 207.3 C242.75 207.85 243.25 210.1 243.7 212 C244.15 213.9 244.57 217.37 245 218.7 C245.43 220.03 245.85 221.57 246.3 220 C246.75 218.43 247.25 213.08 247.7 209.3 C248.15 205.52 248.57 199.07 249 197.3 C249.43 195.53 249.85 197.58 250.3 198.7 C250.75 199.82 251.25 202.9 251.7 204 C252.15 205.1 252.57 205.63 253 205.3 C253.43 204.97 253.85 202.55 254.3 202 C254.75 201.45 255.25 202.12 255.7 202 C256.15 201.88 256.57 201.08 257 201.3 C257.43 201.52 257.85 202.52 258.3 203.3 C258.75 204.08 259.25 204.55 259.7 206 C260.15 207.45 260.57 210.33 261 212 C261.43 213.67 261.85 216.45 262.3 216 C262.75 215.55 263.25 212.18 263.7 209.3 C264.15 206.42 264.6 201.37 265 198.7 C265.4 196.03 265.7 193.75 266.1 193.3 C266.5 192.85 266.92 194.88 267.4 196 C267.88 197.12 268.4 198.88 269 200 C269.6 201.12 270.33 201.92 271 202.7 C271.67 203.48 272.33 204.27 273 204.7 C273.67 205.13 274.33 205.42 275 205.3 C275.67 205.18 276.33 204 277 204 C277.67 204 278.5 205.47 279 205.3 C279.5 205.13 279.57 203.75 280 203 C280.43 202.25 281.05 201.72 281.6 200.8 C282.15 199.88 282.75 198.22 283.3 197.5 C283.85 196.78 284.45 196.13 284.9 196.5 C285.35 196.87 285.65 198.62 286 199.7 C286.35 200.78 286.55 202.28 287 203 C287.45 203.72 288.15 204.18 288.7 204 C289.25 203.82 289.77 202.07 290.3 201.9 C290.83 201.73 291.35 202.28 291.9 203 C292.45 203.72 293.32 205.67 293.6 206.2 L295 197.17 L296.8 188.9 L297.84 192.97 L299.15 201.75 L300.14 192.89 L301.47 197.8 L302.5 172.6 L303.76 202.04 L305.07 189.08 L306.73 201.43 L307.64 193.79 L309.14 205.64 L310.67 191.57 L311.92 202.3 L313.17 192.32 L314.75 205.37 L315.69 193.99 L317.33 209.84 L318.67 195.63 L319.72 207.12 L320.92 196.48 L321.98 204.95 L322.93 199.16 L324.08 204.32 L325.84 196.61 L327.09 202.58 L328.27 194.25 L329.73 203.14 L330.69 195.36 L332.32 205.99 L333.43 201.76 L334.7 206.2 C334.92 206.38 335.5 206.75 336 207.3 C336.5 207.85 337.15 209.5 337.7 209.5 C338.25 209.5 338.77 208.03 339.3 207.3 C339.83 206.57 340.37 205.28 340.9 205.1 C341.43 204.92 341.95 205.65 342.5 206.2 C343.05 206.75 343.63 207.87 344.2 208.4 C344.77 208.93 345.22 208.45 345.9 209.4 C346.58 210.35 347.52 212.8 348.3 214.1 C349.08 215.4 349.82 215.9 350.6 217.2 C351.38 218.5 352.22 220.6 353 221.9 C353.78 223.2 354.52 224.22 355.3 225 C356.08 225.78 356.92 226.22 357.7 226.6 C358.48 226.98 359.23 227.1 360 227.3 C360.77 227.5 361.92 227.72 362.3 227.8" fill="none" stroke="#0000f0" stroke-width="1.8" stroke-linejoin="round" stroke-linecap="round"/>
<path d="M237.7 214 C239.75 212.67 245.78 207.75 250 206 C254.22 204.25 258.83 203.58 263 203.5 C267.17 203.42 271.67 204.25 275 205.5 C278.33 206.75 279.5 208.58 283 211 C286.5 213.42 291.5 216.88 296 220 C300.5 223.12 305.67 226.53 310 229.7 C314.33 232.87 317.83 235.62 322 239 C326.17 242.38 330.67 246.5 335 250 C339.33 253.5 343.83 256.62 348 260 C352.17 263.38 358 268.58 360 270.3" fill="none" stroke="#1a1a1a" stroke-width="0.8" stroke-linejoin="round" stroke-linecap="round" stroke-dasharray="2.6 1"/>
<path d="M237.5 201.5 C241.25 201.38 252.92 201.05 260 200.8 C267.08 200.55 273.33 200.25 280 200 C286.67 199.75 294.17 199.37 300 199.3 C305.83 199.23 310.83 199.4 315 199.6 C319.17 199.8 322.17 200.1 325 200.5 C327.83 200.9 329.5 201 332 202 C334.5 203 337.33 204.58 340 206.5 C342.67 208.42 345.33 211 348 213.5 C350.67 216 353.48 218.8 356 221.5 C358.52 224.2 361.92 228.33 363.1 229.7" fill="none" stroke="#1a1a1a" stroke-width="0.8" stroke-linejoin="round" stroke-linecap="round" stroke-dasharray="2.6 1"/>
<path d="M237.5 205 C240.42 204.58 249.58 203.08 255 202.5 C260.42 201.92 265 201.5 270 201.5 C275 201.5 280 201.92 285 202.5 C290 203.08 295.83 203.85 300 205 C304.17 206.15 306.33 207.82 310 209.4 C313.67 210.98 317.83 212.73 322 214.5 C326.17 216.27 330.33 218.17 335 220 C339.67 221.83 345.32 223.75 350 225.5 C354.68 227.25 360.92 229.67 363.1 230.5" fill="none" stroke="#1a1a1a" stroke-width="0.8" stroke-linejoin="round" stroke-linecap="round" stroke-dasharray="2.6 1"/>
</g>
<rect x="233" y="161.8" width="135" height="109" fill="none" stroke="#a0a0a0" stroke-width="1.5"/>
<path d="M237.22 270.8v1.5M237.22 161.8v-1.5M279.41 270.8v1.5M279.41 161.8v-1.5M321.59 270.8v1.5M321.59 161.8v-1.5M363.78 270.8v1.5M363.78 161.8v-1.5M233 161.8h-1.5M368 161.8h1.5M233 198.1h-1.5M368 198.1h1.5M233 234.5h-1.5M368 234.5h1.5M233 270.8h-1.5M368 270.8h1.5" stroke="#555" stroke-width="0.8"/>
<text x="237.22" y="285.5" font-size="10" text-anchor="middle">3500</text>
<text x="279.41" y="285.5" font-size="10" text-anchor="middle">4000</text>
<text x="321.59" y="285.5" font-size="10" text-anchor="middle">4500</text>
<text x="363.78" y="285.5" font-size="10" text-anchor="middle">5000</text>
<text x="227.8" y="165.7" font-size="10" text-anchor="end">0.4</text>
<text x="227.8" y="202" font-size="10" text-anchor="end">0.3</text>
<text x="227.8" y="238.4" font-size="10" text-anchor="end">0.2</text>
<text x="227.8" y="274.7" font-size="10" text-anchor="end">0.1</text>
<text x="300.5" y="158.5" font-size="9.5" font-weight="bold" text-anchor="middle">(d)</text>
<g clip-path="url(#ce)">
<path d="M52.7 321.7 C52.8 322.58 53.08 327.12 53.3 327 C53.52 326.88 53.67 322.12 54 321 C54.33 319.88 54.92 320.18 55.3 320.3 C55.68 320.42 55.97 319.92 56.3 321.7 C56.63 323.48 56.95 327.9 57.3 331 C57.65 334.1 58.07 337.63 58.4 340.3 C58.73 342.97 58.82 345.77 59.3 347 C59.78 348.23 60.63 347.15 61.3 347.7 C61.97 348.25 62.63 349.63 63.3 350.3 C63.97 350.97 64.63 351.58 65.3 351.7 C65.97 351.82 66.68 351.57 67.3 351 C67.92 350.43 68.48 349.42 69 348.3 C69.52 347.18 69.95 346.07 70.4 344.3 C70.85 342.53 71.27 339.7 71.7 337.7 C72.13 335.7 72.5 333.08 73 332.3 C73.5 331.52 74.08 332.67 74.7 333 C75.32 333.33 76.08 333.75 76.7 334.3 C77.32 334.85 77.85 334.63 78.4 336.3 C78.95 337.97 79.52 341.63 80 344.3 C80.48 346.97 80.8 349.85 81.3 352.3 C81.8 354.75 82.43 357.22 83 359 C83.57 360.78 84.08 362.12 84.7 363 C85.32 363.88 86.15 364.97 86.7 364.3 C87.25 363.63 87.52 361.43 88 359 C88.48 356.57 89.05 351.82 89.6 349.7 C90.15 347.58 90.68 346.75 91.3 346.3 C91.92 345.85 92.68 346.38 93.3 347 C93.92 347.62 94.5 348.72 95 350 C95.5 351.28 95.85 353.37 96.3 354.7 C96.75 356.03 97.25 357.9 97.7 358 C98.15 358.1 98.57 356.18 99 355.3 C99.43 354.42 99.85 353.37 100.3 352.7 C100.75 352.03 101.25 351.08 101.7 351.3 C102.15 351.52 102.57 353.1 103 354 C103.43 354.9 103.85 355.82 104.3 356.7 C104.75 357.58 105.25 358.42 105.7 359.3 C106.15 360.18 106.57 361.88 107 362 C107.43 362.12 107.85 361.12 108.3 360 C108.75 358.88 109.25 356.3 109.7 355.3 C110.15 354.3 110.57 353.77 111 354 C111.43 354.23 111.85 355.58 112.3 356.7 C112.75 357.82 113.25 361.6 113.7 360.7 C114.15 359.8 114.57 353.53 115 351.3 C115.43 349.07 115.85 346.85 116.3 347.3 C116.75 347.75 117.25 352.43 117.7 354 C118.15 355.57 118.57 356.92 119 356.7 C119.43 356.48 119.85 352.7 120.3 352.7 C120.75 352.7 121.25 355.37 121.7 356.7 C122.15 358.03 122.57 360.37 123 360.7 C123.43 361.03 123.85 358.48 124.3 358.7 C124.75 358.92 125.25 361.67 125.7 362 C126.15 362.33 126.57 360.48 127 360.7 C127.43 360.92 127.85 363.08 128.3 363.3 C128.75 363.52 129.25 361.55 129.7 362 C130.15 362.45 130.57 365.12 131 366 C131.43 366.88 131.85 367.52 132.3 367.3 C132.75 367.08 133.25 364.8 133.7 364.7 C134.15 364.6 134.45 366.03 135 366.7 C135.55 367.37 136.45 368.7 137 368.7 C137.55 368.7 137.85 366.7 138.3 366.7 C138.75 366.7 139.13 368.93 139.7 368.7 C140.27 368.47 141.15 365.42 141.7 365.3 C142.25 365.18 142.57 367.77 143 368 C143.43 368.23 143.75 366.7 144.3 366.7 C144.85 366.7 145.63 367.23 146.3 368 C146.97 368.77 147.73 371.08 148.3 371.3 C148.87 371.52 149.25 370.63 149.7 369.3 C150.15 367.97 150.57 365.07 151 363.3 C151.43 361.53 151.9 358.8 152.3 358.7 C152.7 358.6 153.07 361.15 153.4 362.7 C153.73 364.25 153.92 366.67 154.3 368 C154.68 369.33 155.13 370.03 155.7 370.7 C156.27 371.37 156.93 372 157.7 372 C158.47 372 159.42 371.03 160.3 370.7 C161.18 370.37 162.1 370.12 163 370 C163.9 369.88 164.82 369.88 165.7 370 C166.58 370.12 167.42 370.48 168.3 370.7 C169.18 370.92 170 371.03 171 371.3 C172 371.57 173.18 372.13 174.3 372.3 C175.42 372.47 177.13 372.3 177.7 372.3" fill="none" stroke="#0a8a3c" stroke-width="1.8" stroke-linejoin="round" stroke-linecap="round"/>
<path d="M53.4 403 C53.43 401.88 53.42 398.98 53.6 396.3 C53.78 393.62 54.2 389.82 54.5 386.9 C54.8 383.98 55.1 380.37 55.4 378.8 C55.7 377.23 56.02 376.83 56.3 377.5 C56.58 378.17 56.8 380.12 57.1 382.8 C57.4 385.48 57.72 390.68 58.1 393.6 C58.48 396.52 58.95 398.95 59.4 400.3 C59.85 401.65 60.35 401.8 60.8 401.7 C61.25 401.6 61.65 400.82 62.1 399.7 C62.55 398.58 63.12 396.35 63.5 395 C63.88 393.65 64.07 391.83 64.4 391.6 C64.73 391.37 65.1 392.82 65.5 393.6 C65.9 394.38 66.35 397.2 66.8 396.3 C67.25 395.4 67.75 390.55 68.2 388.2 C68.65 385.85 69.07 383.32 69.5 382.2 C69.93 381.08 70.35 380.72 70.8 381.5 C71.25 382.28 71.75 384.65 72.2 386.9 C72.65 389.15 73.05 393.88 73.5 395 C73.95 396.12 74.45 395.18 74.9 393.6 C75.35 392.02 75.75 388.18 76.2 385.5 C76.65 382.82 77.15 379.28 77.6 377.5 C78.05 375.72 78.45 374.58 78.9 374.8 C79.35 375.02 79.85 376.78 80.3 378.8 C80.75 380.82 81.17 384.2 81.6 386.9 C82.03 389.6 82.45 392.77 82.9 395 C83.35 397.23 83.73 399.08 84.3 400.3 C84.87 401.52 85.63 402.4 86.3 402.3 C86.97 402.2 87.73 401.37 88.3 399.7 C88.87 398.03 89.25 393.77 89.7 392.3 C90.15 390.83 90.55 390.68 91 390.9 C91.45 391.12 91.95 392.7 92.4 393.6 C92.85 394.5 93.27 395.63 93.7 396.3 C94.13 396.97 94.57 398.05 95 397.6 C95.43 397.15 95.85 395.05 96.3 393.6 C96.75 392.15 97.25 389.9 97.7 388.9 C98.15 387.9 98.55 387.48 99 387.6 C99.45 387.72 99.98 387.48 100.4 389.6 C100.82 391.72 101.17 396.72 101.5 400.3 C101.83 403.88 102.1 407.97 102.4 411.1 C102.7 414.23 102.97 417.42 103.3 419.1 C103.63 420.78 104.03 422.08 104.4 421.2 C104.77 420.32 105.17 417.28 105.5 413.8 C105.83 410.32 106.08 403.88 106.4 400.3 C106.72 396.72 107.07 394.08 107.4 392.3 C107.73 390.52 108.05 389.6 108.4 389.6 C108.75 389.6 109.15 392.53 109.5 392.3 C109.85 392.07 110.18 389.55 110.5 388.2 C110.82 386.85 111.25 384.87 111.4 384.2 L112 373.36 L113.14 382.24 L114.22 371.46 L115.36 386.45 L116.5 395 L117.15 377.21 L118.39 385.76 L119.54 364.31 L121.2 362.7 L121.88 367.59 L123.12 380.33 L124.35 369.6 L125.96 380.61 L126.94 372.82 L128.03 382.32 L129.04 372.71 L130.64 382.6 L131.7 387.7 L133.59 382.88 L134.78 371.02 L136.37 378.09 L138.13 371.13 L139.05 380.86 L140.19 371.96 L141.38 377.38 L142.84 368.03 L144.3 369.3 C144.53 371.08 145.25 378 145.7 380 C146.15 382 146.57 381.97 147 381.3 C147.43 380.63 147.85 377.55 148.3 376 C148.75 374.45 149.25 372.67 149.7 372 C150.15 371.33 150.57 371.67 151 372 C151.43 372.33 151.85 373.12 152.3 374 C152.75 374.88 153.25 376.08 153.7 377.3 C154.15 378.52 154.57 380.4 155 381.3 C155.43 382.2 155.85 383.13 156.3 382.7 C156.75 382.27 157.25 380.48 157.7 378.7 C158.15 376.92 158.57 373.78 159 372 C159.43 370.22 159.85 369.22 160.3 368 C160.75 366.78 161.13 365.58 161.7 364.7 C162.27 363.82 163.03 363.15 163.7 362.7 C164.37 362.25 165.03 361.9 165.7 362 C166.37 362.1 167.03 362.52 167.7 363.3 C168.37 364.08 169.03 365.58 169.7 366.7 C170.37 367.82 171.03 368.9 171.7 370 C172.37 371.1 173.03 372.42 173.7 373.3 C174.37 374.18 175.03 374.85 175.7 375.3 C176.37 375.75 177.37 375.88 177.7 376" fill="none" stroke="#ff8000" stroke-width="1.8" stroke-linejoin="round" stroke-linecap="round"/>
<path d="M52.7 368.1 C52.92 367.65 53.55 366.3 54 365.4 C54.45 364.5 54.95 363.6 55.4 362.7 C55.85 361.8 56.27 359.95 56.7 360 C57.13 360.05 57.57 364.5 58 363 C58.43 361.5 58.85 354.12 59.3 351 C59.75 347.88 60.25 345.52 60.7 344.3 C61.15 343.08 61.62 342.8 62 343.7 C62.38 344.6 62.65 344.3 63 349.7 C63.35 355.1 63.8 371.02 64.1 376.1 C64.4 381.18 64.47 380.65 64.8 380.2 C65.13 379.75 65.65 375.87 66.1 373.4 C66.55 370.93 67.05 368.13 67.5 365.4 C67.95 362.67 68.38 359.23 68.8 357 C69.22 354.77 69.63 352.42 70 352 C70.37 351.58 70.63 353.17 71 354.5 C71.37 355.83 71.78 359.47 72.2 360 C72.62 360.53 73.08 359.2 73.5 357.7 C73.92 356.2 74.28 353.23 74.7 351 C75.12 348.77 75.57 346.42 76 344.3 C76.43 342.18 76.85 339.3 77.3 338.3 C77.75 337.3 78.25 337.3 78.7 338.3 C79.15 339.3 79.57 342.3 80 344.3 C80.43 346.3 80.85 348.97 81.3 350.3 C81.75 351.63 82.13 351.73 82.7 352.3 C83.27 352.87 84.03 353.25 84.7 353.7 C85.37 354.15 86.03 355 86.7 355 C87.37 355 88.08 354.37 88.7 353.7 C89.32 353.03 89.85 351.23 90.4 351 C90.95 350.77 91.52 351.42 92 352.3 C92.48 353.18 92.85 355.18 93.3 356.3 C93.75 357.42 94.33 358.72 94.7 359 C95.07 359.28 95.23 358.83 95.5 358 C95.77 357.17 95.93 355.78 96.3 354 C96.67 352.22 97.25 348.85 97.7 347.3 C98.15 345.75 98.57 345.37 99 344.7 C99.43 344.03 99.97 343.87 100.3 343.3 C100.63 342.73 100.77 341.07 101 341.3 C101.23 341.53 101.37 343.7 101.7 344.7 C102.03 345.7 102.57 346.42 103 347.3 C103.43 348.18 103.85 349.1 104.3 350 C104.75 350.9 105.25 352.48 105.7 352.7 C106.15 352.92 106.78 351.53 107 351.3 L108 346.98 L108.93 354.39 L110.48 348.94 L111.41 360.59 L113.04 349.99 L114.65 364.79 L115.61 347.5 L117.5 380 L118.79 349.44 L119.62 363.44 L120.86 347.05 L122.03 356.48 L123.87 348.44 L124.92 359.05 L126.32 351.54 L128.03 363.8 L129.06 354.09 L130.94 365.59 L132.55 356.26 L134.06 367.08 L135.73 359.62 L136.75 371.7 L137.8 362.34 L138.97 370.8 L140.21 360.79 L141.7 362.7 C141.87 361.7 142.37 356.93 142.7 356.7 C143.03 356.47 143.38 358.53 143.7 361.3 C144.02 364.07 144.27 369.3 144.6 373.3 C144.93 377.3 145.3 382.3 145.7 385.3 C146.1 388.3 146.6 391.73 147 391.3 C147.4 390.87 147.77 385.7 148.1 382.7 C148.43 379.7 148.63 375.3 149 373.3 C149.37 371.3 149.75 371.47 150.3 370.7 C150.85 369.93 151.52 369.27 152.3 368.7 C153.08 368.13 154 367.63 155 367.3 C156 366.97 157.18 366.92 158.3 366.7 C159.42 366.48 160.47 366.23 161.7 366 C162.93 365.77 164.37 365.45 165.7 365.3 C167.03 365.15 168.37 365.2 169.7 365.1 C171.03 365 172.37 364.77 173.7 364.7 C175.03 364.63 177.03 364.7 177.7 364.7" fill="none" stroke="#0000f0" stroke-width="1.8" stroke-linejoin="round" stroke-linecap="round"/>
<path d="M52.7 332.3 C54.75 333.33 60.45 336.47 65 338.5 C69.55 340.53 74.5 342.33 80 344.5 C85.5 346.67 92.17 349.33 98 351.5 C103.83 353.67 108.83 355.33 115 357.5 C121.17 359.67 129.45 362.3 135 364.5 C140.55 366.7 143.63 368.95 148.3 370.7 C152.97 372.45 158.1 373.45 163 375 C167.9 376.55 175.25 379.17 177.7 380" fill="none" stroke="#1a1a1a" stroke-width="0.8" stroke-linejoin="round" stroke-linecap="round" stroke-dasharray="2.6 1"/>
<path d="M55.3 365 C56.92 364 61.72 360.75 65 359 C68.28 357.25 71.67 355.75 75 354.5 C78.33 353.25 81.17 352.17 85 351.5 C88.83 350.83 93 349.7 98 350.5 C103 351.3 108.83 354.17 115 356.3 C121.17 358.43 129.17 361.18 135 363.3 C140.83 365.42 145.33 367.3 150 369 C154.67 370.7 158.38 372 163 373.5 C167.62 375 175.25 377.25 177.7 378" fill="none" stroke="#1a1a1a" stroke-width="0.8" stroke-linejoin="round" stroke-linecap="round" stroke-dasharray="2.6 1"/>
<path d="M52.7 389.6 C54.15 390.17 58.15 392.15 61.4 393 C64.65 393.85 68.83 394.48 72.2 394.7 C75.57 394.92 78.47 394.82 81.6 394.3 C84.73 393.78 87.87 392.72 91 391.6 C94.13 390.48 97.05 389.07 100.4 387.6 C103.75 386.13 107.52 384.38 111.1 382.8 C114.68 381.22 118.32 379.43 121.9 378.1 C125.48 376.77 129.02 375.92 132.6 374.8 C136.18 373.68 139 372.23 143.4 371.4 C147.8 370.57 153.28 370.25 159 369.8 C164.72 369.35 174.58 368.88 177.7 368.7" fill="none" stroke="#1a1a1a" stroke-width="0.8" stroke-linejoin="round" stroke-linecap="round" stroke-dasharray="2.6 1"/>
</g>
<rect x="48.4" y="312.9" width="134.5" height="108.9" fill="none" stroke="#a0a0a0" stroke-width="1.5"/>
<path d="M52.6 421.8v1.5M52.6 312.9v-1.5M94.63 421.8v1.5M94.63 312.9v-1.5M136.67 421.8v1.5M136.67 312.9v-1.5M178.7 421.8v1.5M178.7 312.9v-1.5M48.4 331.6h-1.5M182.9 331.6h1.5M48.4 361.7h-1.5M182.9 361.7h1.5M48.4 391.8h-1.5M182.9 391.8h1.5M48.4 421.8h-1.5M182.9 421.8h1.5" stroke="#555" stroke-width="0.8"/>
<text x="52.6" y="437" font-size="10" text-anchor="middle">3500</text>
<text x="94.63" y="437" font-size="10" text-anchor="middle">4000</text>
<text x="136.67" y="437" font-size="10" text-anchor="middle">4500</text>
<text x="178.7" y="437" font-size="10" text-anchor="middle">5000</text>
<text x="43.2" y="335.5" font-size="10" text-anchor="end">1</text>
<text x="43.2" y="365.6" font-size="10" text-anchor="end">0.5</text>
<text x="43.2" y="395.7" font-size="10" text-anchor="end">0</text>
<text x="43.2" y="425.7" font-size="10" text-anchor="end">-0.5</text>
<text x="115.65" y="309.6" font-size="9.5" font-weight="bold" text-anchor="middle">(e)</text>
<g clip-path="url(#cf)">
<path d="M237.9 412 C237.95 410.7 238 406.37 238.2 404.2 C238.4 402.03 238.67 400.43 239.1 399 C239.53 397.57 240.23 395.6 240.8 395.6 C241.37 395.6 242.12 397.57 242.5 399 C242.88 400.43 242.88 405.35 243.1 404.2 C243.32 403.05 243.57 397.02 243.8 392.1 C244.03 387.18 244.27 379.48 244.5 374.7 C244.73 369.92 244.8 365.28 245.2 363.4 C245.6 361.52 246.33 363.4 246.9 363.4 C247.47 363.4 248.17 361.52 248.6 363.4 C249.03 365.28 249.2 371.8 249.5 374.7 C249.8 377.6 250.12 380.8 250.4 380.8 C250.68 380.8 250.92 377.17 251.2 374.7 C251.48 372.23 251.67 367.73 252.1 366 C252.53 364.27 253.28 364.15 253.8 364.3 C254.32 364.45 254.77 365.17 255.2 366.9 C255.63 368.63 255.9 372.1 256.4 374.7 C256.9 377.3 257.62 381.92 258.2 382.5 C258.78 383.08 259.33 380.95 259.9 378.2 C260.47 375.45 261.1 369.77 261.6 366 C262.1 362.23 262.45 357.9 262.9 355.6 C263.35 353.3 263.93 351.03 264.3 352.2 C264.67 353.37 264.82 361.45 265.1 362.6 C265.38 363.75 265.62 361.72 266 359.1 C266.38 356.48 266.97 349.8 267.4 346.9 C267.83 344 268.25 342.85 268.6 341.7 C268.95 340.55 269.07 339.7 269.5 340 C269.93 340.3 270.62 342.35 271.2 343.5 C271.78 344.65 272.42 346.47 273 346.9 C273.58 347.33 274.28 345.92 274.7 346.1 C275.12 346.28 275.22 347.02 275.5 348 C275.78 348.98 276.12 349.88 276.4 352 C276.68 354.12 276.9 358.03 277.2 360.7 C277.5 363.37 277.83 367.02 278.2 368 C278.57 368.98 279 368.57 279.4 366.6 C279.8 364.63 280.23 359.9 280.6 356.2 C280.97 352.5 281.25 346.6 281.6 344.4 C281.95 342.2 282.33 343 282.7 343 C283.07 343 283.37 344.03 283.8 344.4 C284.23 344.77 284.8 345.43 285.3 345.2 C285.8 344.97 286.3 343.5 286.8 343 C287.3 342.5 287.82 342.08 288.3 342.2 C288.78 342.32 289.22 342.95 289.7 343.7 C290.18 344.45 290.75 346.08 291.2 346.7 C291.65 347.32 292.03 347.9 292.4 347.4 C292.77 346.9 293.05 344.57 293.4 343.7 C293.75 342.83 294.17 342.2 294.5 342.2 C294.83 342.2 295.08 341.6 295.4 343.7 C295.72 345.8 296.12 351.97 296.4 354.8 C296.68 357.63 296.85 362.18 297.1 360.7 C297.35 359.22 297.65 349.6 297.9 345.9 C298.15 342.2 298.37 339.23 298.6 338.5 C298.83 337.77 299 338.55 299.3 341.5 C299.6 344.45 300.1 352.52 300.4 356.2 C300.7 359.88 300.87 365.57 301.1 363.6 C301.33 361.63 301.58 350.05 301.8 344.4 C302.02 338.75 302.2 330.68 302.4 329.7 C302.6 328.72 302.77 333.58 303 338.5 C303.23 343.42 303.55 362.88 303.8 359.2 C304.05 355.52 304.27 321.57 304.5 316.4 C304.73 311.23 304.95 322.05 305.2 328.2 C305.45 334.35 305.75 351.58 306 353.3 C306.25 355.02 306.47 339.48 306.7 338.5 C306.93 337.52 307.15 346.9 307.4 347.4 C307.65 347.9 307.95 342.98 308.2 341.5 C308.45 340.02 308.6 340.97 308.9 338.5 C309.2 336.03 309.68 327.68 310 326.7 C310.32 325.72 310.48 330.13 310.8 332.6 C311.12 335.07 311.52 339.28 311.9 341.5 C312.28 343.72 312.73 344.18 313.1 345.9 C313.47 347.62 313.77 351.07 314.1 351.8 C314.43 352.53 314.78 352.75 315.1 350.3 C315.42 347.85 315.75 334.15 316 337.1 C316.25 340.05 316.35 367.52 316.6 368 C316.85 368.48 317.18 344.42 317.5 340 C317.82 335.58 318.17 338.3 318.5 341.5 C318.83 344.7 319.13 357.48 319.5 359.2 C319.87 360.92 320.37 353.42 320.7 351.8 C321.03 350.18 321.17 347.25 321.5 349.5 C321.83 351.75 322.33 364.43 322.7 365.3 C323.07 366.17 323.3 358.25 323.7 354.7 C324.1 351.15 324.65 345.12 325.1 344 C325.55 342.88 325.97 346.45 326.4 348 C326.83 349.55 327.25 351.97 327.7 353.3 C328.15 354.63 328.65 355.33 329.1 356 C329.55 356.67 329.97 356.85 330.4 357.3 C330.83 357.75 331.32 358.7 331.7 358.7 C332.08 358.7 332.38 358.87 332.7 357.3 C333.02 355.73 333.32 350.85 333.6 349.3 C333.88 347.75 334.12 347.1 334.4 348 C334.68 348.9 334.92 352.7 335.3 354.7 C335.68 356.7 336.25 359 336.7 360 C337.15 361 337.57 360.92 338 360.7 C338.43 360.48 338.85 359.48 339.3 358.7 C339.75 357.92 340.25 357.12 340.7 356 C341.15 354.88 341.63 353.55 342 352 C342.37 350.45 342.52 348.03 342.9 346.7 C343.28 345.37 343.78 344.67 344.3 344 C344.82 343.33 345.5 343.15 346 342.7 C346.5 342.25 346.92 340.2 347.3 341.3 C347.68 342.4 347.97 348.4 348.3 349.3 C348.63 350.2 348.9 347.37 349.3 346.7 C349.7 346.03 350.25 346.3 350.7 345.3 C351.15 344.3 351.67 340.03 352 340.7 C352.33 341.37 352.48 346.53 352.7 349.3 C352.92 352.07 353.02 357.3 353.3 357.3 C353.58 357.3 354.07 350.85 354.4 349.3 C354.73 347.75 354.92 348 355.3 348 C355.68 348 356.25 348.63 356.7 349.3 C357.15 349.97 357.57 351 358 352 C358.43 353 358.85 354.42 359.3 355.3 C359.75 356.18 360.18 356.73 360.7 357.3 C361.22 357.87 362.12 358.47 362.4 358.7" fill="none" stroke="#8a8a8a" stroke-width="1.4" stroke-linejoin="round" stroke-linecap="round"/>
<path d="M237.9 401.6 C238.82 399.15 241.62 390.8 243.4 386.9 C245.18 383 246.87 381.1 248.6 378.2 C250.33 375.3 251.77 372.4 253.8 369.5 C255.83 366.6 258.48 363.4 260.8 360.8 C263.12 358.2 265.38 355.73 267.7 353.9 C270.02 352.07 272.02 351.03 274.7 349.8 C277.38 348.57 280.32 347.3 283.8 346.5 C287.28 345.7 291.67 345.02 295.6 345 C299.53 344.98 303.47 345.73 307.4 346.4 C311.33 347.07 315.98 348.15 319.2 349 C322.42 349.85 324.35 350.88 326.7 351.5 C329.05 352.12 330.87 352.32 333.3 352.7 C335.73 353.08 338.85 353.58 341.3 353.8 C343.75 354.02 345.77 354.03 348 354 C350.23 353.97 352.3 353.93 354.7 353.6 C357.1 353.27 361.12 352.27 362.4 352" fill="none" stroke="#1a1a1a" stroke-width="0.8" stroke-linejoin="round" stroke-linecap="round" stroke-dasharray="2.6 1"/>
</g>
<rect x="233" y="312.9" width="135" height="108.9" fill="none" stroke="#a0a0a0" stroke-width="1.5"/>
<path d="M237.22 421.8v1.5M237.22 312.9v-1.5M279.41 421.8v1.5M279.41 312.9v-1.5M321.59 421.8v1.5M321.59 312.9v-1.5M363.78 421.8v1.5M363.78 312.9v-1.5M233 312.9h-1.5M368 312.9h1.5M233 337.8h-1.5M368 337.8h1.5M233 362.7h-1.5M368 362.7h1.5M233 387.5h-1.5M368 387.5h1.5M233 412.4h-1.5M368 412.4h1.5" stroke="#555" stroke-width="0.8"/>
<text x="237.22" y="437" font-size="10" text-anchor="middle">3500</text>
<text x="279.41" y="437" font-size="10" text-anchor="middle">4000</text>
<text x="321.59" y="437" font-size="10" text-anchor="middle">4500</text>
<text x="363.78" y="437" font-size="10" text-anchor="middle">5000</text>
<text x="227.8" y="316.8" font-size="10" text-anchor="end">0.1</text>
<text x="227.8" y="341.7" font-size="10" text-anchor="end">0.05</text>
<text x="227.8" y="366.6" font-size="10" text-anchor="end">0</text>
<text x="227.8" y="391.4" font-size="10" text-anchor="end">-0.05</text>
<text x="227.8" y="416.3" font-size="10" text-anchor="end">-0.1</text>
<text x="300.5" y="309.6" font-size="9.5" font-weight="bold" text-anchor="middle">(f)</text>
<text transform="translate(14 64.6) rotate(-90)" font-size="11.3" text-anchor="middle"><tspan>Δ</tspan><tspan font-style="italic">T</tspan><tspan font-style="italic" font-size="7.5" dy="2.5">mean</tspan><tspan dy="-2.5" dx="1.6"> (°C/season)</tspan></text>
<text transform="translate(213.8 65.5) rotate(-90)" font-size="11.3" text-anchor="middle">Δ<tspan font-style="italic">P</tspan> (mm/season)</text>
<text transform="translate(20.8 216.5) rotate(-90)" font-size="11.3" text-anchor="middle">Δ<tspan font-style="italic">SCE</tspan> (km<tspan font-size="7.5" dy="-4">2</tspan><tspan dy="4">/season)</tspan></text>
<text transform="translate(204.8 216.5) rotate(-90)" font-size="11.3" text-anchor="middle">Δ<tspan font-style="italic">R</tspan><tspan font-style="italic" font-size="7.5" dy="2.5">ld</tspan><tspan dy="-2.5"> (W/m</tspan><tspan font-size="7.5" dy="-4">2</tspan><tspan dy="4">/season)</tspan></text>
<text transform="translate(20.8 367.7) rotate(-90)" font-size="11.3" text-anchor="middle">ΔNDVI (unitless/season)</text>
<text transform="translate(201 367) rotate(-90)" font-size="11.3" text-anchor="middle">ΔBGS (day/year)</text>
<path d="M55.4 87.6H78.2" stroke="#0a8a3c" stroke-width="1.8"/>
<text x="81" y="90.8" font-size="9">spring</text>
<path d="M55.4 98.2H78.2" stroke="#ff8000" stroke-width="1.8"/>
<text x="81" y="101.4" font-size="9">summer</text>
<path d="M55.4 108.8H78.2" stroke="#0000f0" stroke-width="1.8"/>
<text x="81" y="112" font-size="9">autumn</text>
<text x="212.5" y="456" font-size="10" text-anchor="middle">Elevation (m)</text>
</svg></body></html>
